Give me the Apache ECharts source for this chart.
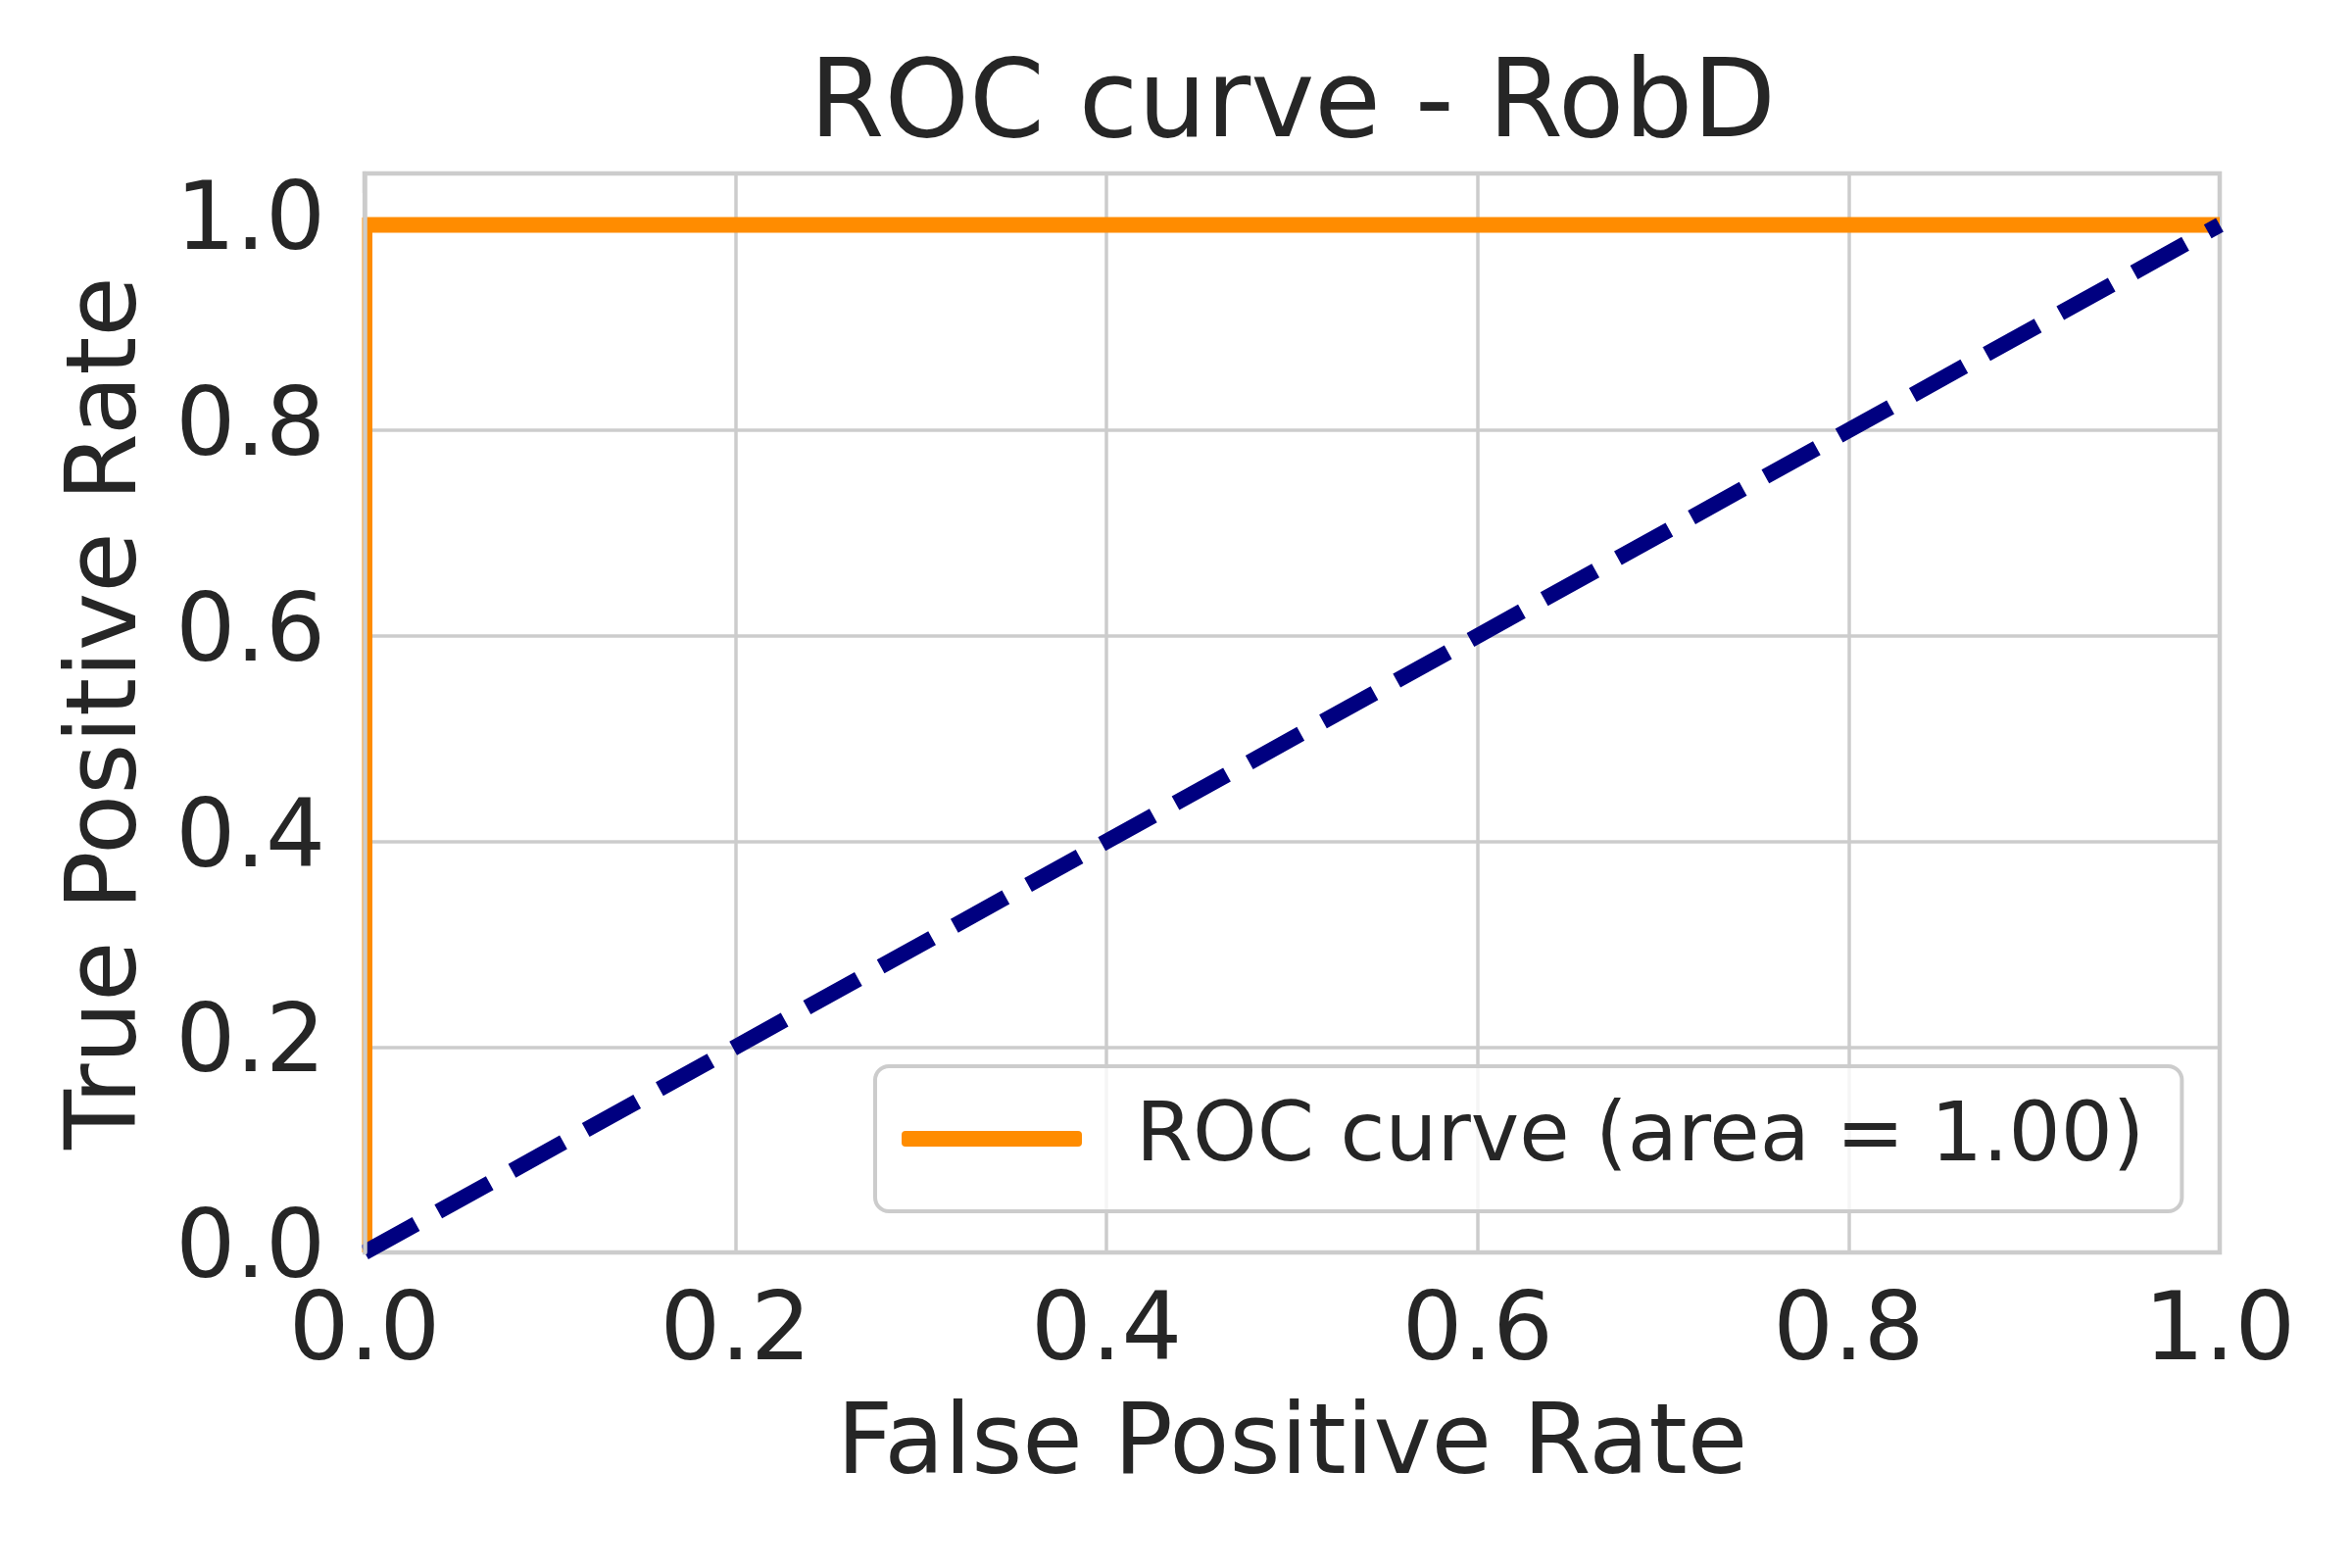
<!DOCTYPE html>
<html>
<head>
<meta charset="utf-8">
<title>ROC curve - RobD</title>
<script src="https://cdn.jsdelivr.net/npm/echarts@6/dist/echarts.min.js"></script>
<style>
	html, body { margin: 0; padding: 0; background: #ffffff; }
	#chart { width: 2400px; height: 1600px; }
</style>
</head>
<body>
<div id="chart"></div>
<script>
// roc points
var fpr = [0.0, 0.0, 1.0]
var tpr = [0.0, 1.0, 1.0]
// chance diagonal
var chance_x = [0.0, 1.0]
var chance_y = [0.0, 1.0]
var roc_name = 'ROC curve (area = 1.00)'
var title_text = 'ROC curve - RobD'
var x_name = 'False Positive Rate'
var y_name = 'True Positive Rate'

var FONT = 'DejaVu Sans',
	TEXT = '#262626',
	GRID = '#cccccc',
	W = 2400,
	H = 1600,
	PLOT = {left: 372, right: 135, top: 177, bottom: 322}

function pairs (xs, ys) {
	var out = [], i
	for (i = 0; i < xs.length; i++) {
		out.push([xs[i], ys[i]])
	}
	return out
}

function tick_label (v) {
	// only the 0.2 steps get a label (skip the 1.05 end of y)
	if (Math.abs(v * 5 - Math.round(v * 5)) > 1e-6) {
		return ''
	}
	return v.toFixed(1)
}

function text_width (text, size) {
	var ctx = document.createElement('canvas').getContext('2d')
	ctx.font = size + 'px "' + FONT + '"'
	return ctx.measureText(text).width
}

function main () {
	var chart = echarts.init(document.getElementById('chart'), null, {renderer: 'canvas'})
	// title is centred over the axes, not the page
	var plot_mid = PLOT.left + (W - PLOT.left - PLOT.right) / 2
	var title_left = Math.round(plot_mid - text_width(title_text, 110) / 2)
	var plot_bottom = H - PLOT.bottom

	var option = {
		animation: false,
		backgroundColor: '#ffffff',
		textStyle: {fontFamily: FONT, color: TEXT},
		title: {
			text: title_text,
			left: title_left,
			top: 55,
			padding: 0,
			textStyle: {fontFamily: FONT, fontSize: 110, fontWeight: 'normal', color: TEXT}
		},
		grid: {
			left: PLOT.left,
			right: PLOT.right,
			top: PLOT.top,
			bottom: PLOT.bottom,
			show: true,
			backgroundColor: '#ffffff',
			borderColor: GRID,
			borderWidth: 4.5
		},
		legend: {
			data: [roc_name],
			left: 893,
			top: 1088,
			orient: 'vertical',
			selectedMode: false,
			icon: 'roundRect',
			itemWidth: 184,
			itemHeight: 16,
			padding: [24, 38, 24, 27],
			backgroundColor: 'rgba(255,255,255,0.8)',
			borderColor: GRID,
			borderWidth: 4,
			borderRadius: 14,
			textStyle: {
				fontFamily: FONT,
				fontSize: 83.5,
				lineHeight: 100,
				color: TEXT,
				padding: [0, 0, 0, 50]
			}
		},
		xAxis: {
			type: 'value',
			min: 0,
			max: 1,
			interval: 0.2,
			name: x_name,
			nameLocation: 'middle',
			nameGap: 149,
			nameTextStyle: {fontFamily: FONT, fontSize: 100, color: TEXT},
			axisLine: {show: false},
			axisTick: {show: false},
			axisLabel: {
				margin: 35,
				fontFamily: FONT,
				fontSize: 97,
				color: TEXT,
				formatter: tick_label
			},
			splitLine: {show: true, lineStyle: {color: GRID, width: 3.5}}
		},
		yAxis: [{
			type: 'value',
			min: 0,
			max: 1.05,
			interval: 0.2,
			name: y_name,
			nameLocation: 'middle',
			nameRotate: 90,
			nameGap: 210,
			nameTextStyle: {fontFamily: FONT, fontSize: 100, color: TEXT},
			axisLine: {show: false},
			axisTick: {show: false},
			axisLabel: {
				margin: 40,
				fontFamily: FONT,
				fontSize: 96,
				color: TEXT,
				formatter: tick_label
			},
			splitLine: {show: true, lineStyle: {color: GRID, width: 3.5}}
		}, {
			// left spine again, drawn over the curve like matplotlib does
			type: 'value',
			position: 'left',
			min: 0,
			max: 1.05,
			interval: 0.2,
			z: 5,
			axisLine: {show: true, onZero: false, lineStyle: {color: GRID, width: 4.5}},
			axisTick: {show: false},
			axisLabel: {show: false},
			splitLine: {show: false}
		}],
		graphic: [{
			// hide the half of the x=0 segment that falls outside the axes
			type: 'rect',
			z: 10,
			silent: true,
			shape: {x: PLOT.left - 16, y: PLOT.top + 20, width: 13.5, height: plot_bottom + 4 - PLOT.top - 20},
			style: {fill: '#ffffff'}
		}],
		series: [{
			name: roc_name,
			type: 'line',
			data: pairs(fpr, tpr),
			showSymbol: false,
			symbol: 'none',
			clip: true,
			color: '#ff8c00',
			lineStyle: {color: '#ff8c00', width: 16, join: 'round'},
			z: 3
		}, {
			name: 'chance',
			type: 'line',
			data: pairs(chance_x, chance_y),
			showSymbol: false,
			symbol: 'none',
			clip: true,
			color: '#000080',
			lineStyle: {color: '#000080', width: 16, type: [60, 26], cap: 'butt'},
			z: 3
		}]
	}

	chart.setOption(option)
}

main()
</script>
</body>
</html>
